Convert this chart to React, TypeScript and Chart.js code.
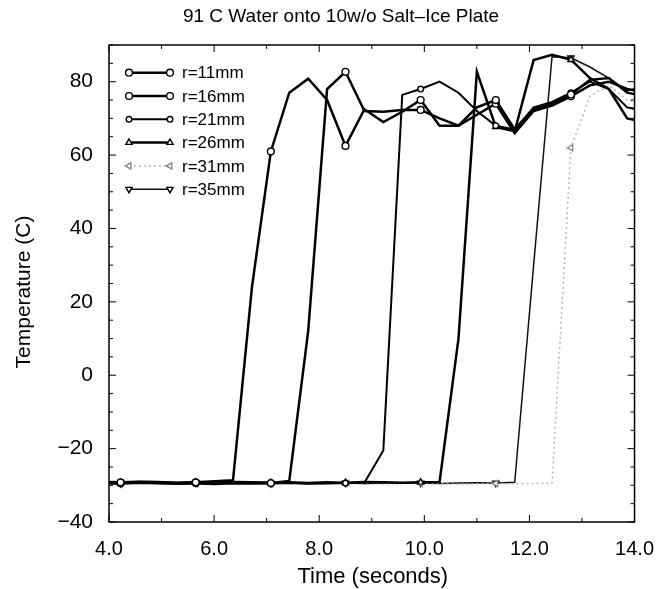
import React, { useEffect, useRef } from 'react';
import { Chart, registerables } from 'chart.js';

Chart.register(...registerables);

const FONT = '"Liberation Sans", Arial, Helvetica, sans-serif';

const titleText = '91 C Water onto 10w/o Salt\u2013Ice Plate';
const xTitle = 'Time (seconds)';
const yTitle = 'Temperature (C)';

// sample times (seconds)
const time = [3.86, 4.22, 4.58, 4.93, 5.29, 5.65, 6.01, 6.36, 6.72, 7.08, 7.43, 7.79, 8.15, 8.5, 8.86, 9.22, 9.58, 9.93, 10.29, 10.65, 11.0, 11.36, 11.72, 12.08, 12.43, 12.79, 13.15, 13.51, 13.86, 14.22];

const r11 = [-29.0, -29.2, -29.0, -29.1, -29.3, -29.2, -28.9, -28.6, 24, 61, 77, 80.8, 75, 62.5, 72.5, 69, 71.8, 75, 68, 68, 73, 75, 67, 72.5, 74, 76.5, 80.5, 81, 77, 76];
const r16 = [-29.3, -29.4, -29.2, -29.3, -29.5, -29.3, -29.4, -29.2, -29.3, -29.4, -28.8, 12, 78, 82.7, 72, 71.8, 72.3, 72.3, 70, 68, 71, 74, 66, 72, 73.5, 76, 79, 80, 78, 77];
const r21 = [-29.5, -29.6, -29.4, -29.5, -29.6, -29.5, -29.7, -29.5, -29.6, -29.5, -29.4, -29.6, -29.5, -29.4, -29.3, -20.5, 76.4, 78, 80, 77, 72, 68, 67, 73, 74.5, 77, 80, 78, 73, 72];
const r26 = [-29.2, -29.3, -29.1, -29.2, -29.4, -29.2, -29.3, -29.1, -29.2, -29.3, -29.2, -29.4, -29.2, -29.3, -29.1, -29.2, -29.3, -29.2, -29.1, 10, 82.7, 67.7, 66.5, 85.9, 87.3, 86, 81, 78, 70, 69];
const r31 = [-29.6, -29.7, -29.5, -29.6, -29.7, -29.6, -29.8, -29.6, -29.7, -29.6, -29.5, -29.7, -29.6, -29.5, -29.6, -29.7, -29.6, -29.5, -29.6, -29.7, -29.6, -29.5, -29.6, -29.5, -29.4, 62, 76, 79, 75, 74];
const r35 = [-29.4, -29.5, -29.3, -29.4, -29.6, -29.4, -29.5, -29.3, -29.4, -29.5, -29.4, -29.5, -29.3, -29.4, -29.5, -29.4, -29.3, -29.4, -29.5, -29.4, -29.3, -29.4, -29.2, 30, 86.8, 86.5, 84, 81, 77.5, 79];

const seriesLabels = ['r=11mm', 'r=16mm', 'r=21mm', 'r=26mm', 'r=31mm', 'r=35mm'];
const seriesValues = [r11, r16, r21, r26, r31, r35];

const xTicks = [4, 6, 8, 10, 12, 14];
const yTicks = [-40, -20, 0, 20, 40, 60, 80];

type Style = { color: string; width: number; dash: number[]; shape: string; rot: number; radius: number };
const styles: Style[] = [
  { color: '#000', width: 2.5, dash: [], shape: 'circle', rot: 0, radius: 3.4 },
  { color: '#000', width: 2.5, dash: [], shape: 'circle', rot: 0, radius: 3.4 },
  { color: '#000', width: 2.0, dash: [], shape: 'circle', rot: 0, radius: 2.8 },
  { color: '#000', width: 2.5, dash: [], shape: 'triangle', rot: 0, radius: 3.6 },
  { color: '#b8b8b8', width: 1.5, dash: [2, 3], shape: 'triangle', rot: 270, radius: 3.6 },
  { color: '#111', width: 1.5, dash: [], shape: 'triangle', rot: 180, radius: 3.6 },
];

function drawMarker(ctx: CanvasRenderingContext2D, s: Style, x: number, y: number) {
  ctx.save();
  ctx.setLineDash([]);
  ctx.fillStyle = '#fff';
  ctx.strokeStyle = s.color === '#b8b8b8' ? '#888' : '#000';
  ctx.lineWidth = 1.4;
  ctx.beginPath();
  if (s.shape === 'circle') {
    ctx.arc(x, y, s.radius, 0, Math.PI * 2);
  } else {
    let rad = (s.rot * Math.PI) / 180;
    const r = s.radius;
    ctx.moveTo(x + Math.sin(rad) * r, y - Math.cos(rad) * r);
    rad += (2 * Math.PI) / 3;
    ctx.lineTo(x + Math.sin(rad) * r, y - Math.cos(rad) * r);
    rad += (2 * Math.PI) / 3;
    ctx.lineTo(x + Math.sin(rad) * r, y - Math.cos(rad) * r);
    ctx.closePath();
  }
  ctx.fill();
  ctx.stroke();
  ctx.restore();
}

const framePlugin = {
  id: 'frameTicks',
  afterDatasetsDraw(chart: any) {
    const { ctx, chartArea, scales } = chart;
    const { left, right, top, bottom } = chartArea;
    const xs = scales.x;
    const ys = scales.y;
    ctx.save();
    ctx.strokeStyle = '#000';
    ctx.lineWidth = 1;
    for (let v = 4; v <= 14.0001; v += 1) {
      const px = xs.getPixelForValue(v);
      const len = Math.round(v) % 2 === 0 ? 7 : 4;
      ctx.beginPath();
      ctx.moveTo(px, bottom);
      ctx.lineTo(px, bottom - len);
      ctx.moveTo(px, top);
      ctx.lineTo(px, top + len);
      ctx.stroke();
    }
    for (let v = -40; v <= 90.0001; v += 5) {
      const py = ys.getPixelForValue(v);
      const len = Math.round(v) % 20 === 0 ? 7 : 4;
      ctx.beginPath();
      ctx.moveTo(left, py);
      ctx.lineTo(left + len, py);
      ctx.moveTo(right, py);
      ctx.lineTo(right - len, py);
      ctx.stroke();
    }
    ctx.lineWidth = 1.5;
    ctx.strokeRect(left, top, right - left, bottom - top);
    ctx.restore();
  },
};

const legendPlugin = {
  id: 'customLegend',
  afterDraw(chart: any) {
    const { ctx, chartArea } = chart;
    ctx.save();
    const x1 = 129;
    const x2 = 170;
    const y0 = 72.7;
    const dy = 23.3;
    seriesLabels.forEach((lab, i) => {
      const s = styles[i];
      const y = y0 + i * dy;
      ctx.beginPath();
      ctx.strokeStyle = s.color;
      ctx.lineWidth = s.width;
      ctx.setLineDash(s.dash);
      ctx.moveTo(x1, y);
      ctx.lineTo(x2, y);
      ctx.stroke();
      ctx.setLineDash([]);
      drawMarker(ctx, s, x1, y);
      drawMarker(ctx, s, x2, y);
      ctx.fillStyle = '#000';
      ctx.font = `17px ${FONT}`;
      ctx.textAlign = 'left';
      ctx.textBaseline = 'middle';
      ctx.fillText(lab, 182, y + 1);
    });
    ctx.fillStyle = '#000';
    ctx.textAlign = 'center';
    ctx.textBaseline = 'middle';
    ctx.font = `19px ${FONT}`;
    ctx.fillText(titleText, 341, 17);
    ctx.font = `22px ${FONT}`;
    ctx.fillText(xTitle, (chartArea.left + chartArea.right) / 2 + 1, 577);
    ctx.save();
    ctx.translate(24, 292);
    ctx.rotate(-Math.PI / 2);
    ctx.font = `21px ${FONT}`;
    ctx.fillText(yTitle, 0, 0);
    ctx.restore();
    ctx.restore();
  },
};

export default function App() {
  const ref = useRef<HTMLCanvasElement | null>(null);
  useEffect(() => {
    document.body.style.margin = '0';
    const canvas = ref.current;
    if (!canvas) return;
    const datasets = seriesValues.map((vals, i) => {
      const s = styles[i];
      return {
        label: seriesLabels[i],
        data: vals.map((v, k) => ({ x: time[k], y: v })),
        borderColor: s.color,
        borderWidth: s.width,
        borderDash: s.dash,
        backgroundColor: '#fff',
        pointBackgroundColor: '#fff',
        pointBorderColor: i === 4 ? '#888' : '#000',
        pointBorderWidth: 1.4,
        pointStyle: s.shape,
        pointRotation: s.rot,
        pointRadius: (c: any) => (c.dataIndex % 4 === 1 ? s.radius : 0),
        pointHoverRadius: 0,
        tension: 0,
        fill: false,
      };
    });
    const chart = new Chart(canvas, {
      type: 'line',
      data: { datasets },
      options: {
        responsive: false,
        animation: false,
        events: [],
        layout: { padding: { top: 45, right: 26, left: 0, bottom: 0 } },
        plugins: {
          legend: { display: false },
          title: { display: false },
          tooltip: { enabled: false },
        },
        scales: {
          x: {
            type: 'linear',
            min: 4,
            max: 14,
            afterBuildTicks: (s: any) => {
              s.ticks = xTicks.map((v) => ({ value: v }));
            },
            afterFit: (s: any) => {
              s.height = 67;
            },
            grid: { display: false, drawTicks: false },
            border: { display: false },
            ticks: {
              padding: 15,
              color: '#000',
              font: { family: FONT, size: 20, lineHeight: 1.2 },
              callback: (v: any) => Number(v).toFixed(1),
              maxRotation: 0,
              autoSkip: false,
            },
            title: { display: false, text: xTitle },
          },
          y: {
            type: 'linear',
            min: -40,
            max: 90,
            afterBuildTicks: (s: any) => {
              s.ticks = yTicks.map((v) => ({ value: v }));
            },
            afterFit: (s: any) => {
              s.width = 109;
            },
            grid: { display: false, drawTicks: false },
            border: { display: false },
            ticks: {
              padding: 16,
              color: '#000',
              font: { family: FONT, size: 21, lineHeight: 1.2 },
              autoSkip: false,
              callback: (v: any) => (Number(v) < 0 ? '\u2212' + Math.abs(Number(v)) : String(v)),
            },
            title: { display: false, text: yTitle },
          },
        },
      },
      plugins: [framePlugin, legendPlugin],
    });
    return () => chart.destroy();
  }, []);
  return (
    <div style={{ width: 669, height: 589, position: 'relative', background: '#fff' }}>
      <canvas ref={ref} width={669} height={589} style={{ display: 'block', width: 669, height: 589 }} />
    </div>
  );
}
